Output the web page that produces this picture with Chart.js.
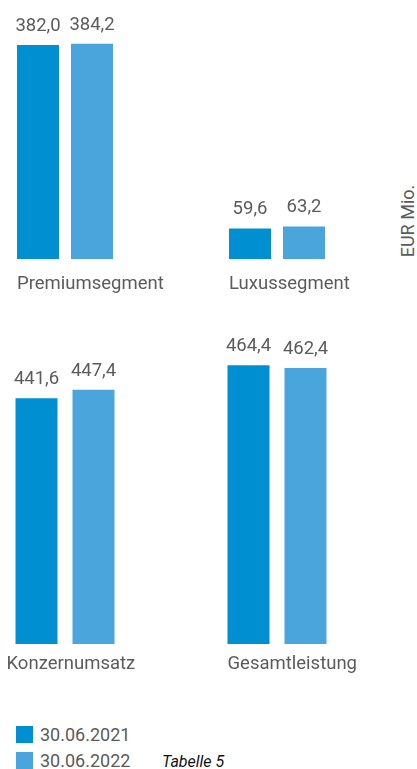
<!DOCTYPE html>
<html lang="de">
<head>
<meta charset="utf-8">
<title>Tabelle 5</title>
<script src="https://cdn.jsdelivr.net/npm/chart.js@4.4.1/dist/chart.umd.min.js"></script>
<style>
  html, body { margin: 0; padding: 0; background: #fff; }
  #page { position: relative; width: 417px; height: 769px; overflow: hidden; font-family: Roboto, sans-serif; color: #5b5b5b; }
  .chart-box { position: absolute; left: -41px; width: 424px; }
  #top-box { top: 0; height: 300px; }
  #bottom-box { top: 320px; height: 365px; }
  #unit { position: absolute; left: 407px; top: 221px; transform: translate(-50%, -50%) rotate(-90deg); font-size: 18px; white-space: nowrap; }
  .legend-item { position: absolute; left: 16px; height: 17px; line-height: 17px; font-size: 18px; display: flex; align-items: center; white-space: nowrap; }
  .legend-swatch { width: 17px; height: 17px; margin-right: 7px; flex: none; }
  #caption { position: absolute; left: 162px; top: 752px; line-height: 20px; font-size: 16px; font-style: italic; color: #111; }
</style>
</head>
<body>
<div id="page">
  <div class="chart-box" id="top-box"><canvas id="chart-top"></canvas></div>
  <div class="chart-box" id="bottom-box"><canvas id="chart-bottom"></canvas></div>
  <div id="unit">EUR Mio.</div>
  <div id="legend"></div>
  <div id="caption">Tabelle 5</div>
</div>
<script>
const seriesLabels = ['30.06.2021', '30.06.2022'];
const seriesColors = ['#008fd0', '#4aa5dd'];

const topCategories = ['Premiumsegment', 'Luxussegment'];
const top2021 = [382.0, 59.6];
const top2022 = [384.2, 63.2];

const bottomCategories = ['Konzernumsatz', 'Gesamtleistung'];
const bottom2021 = [441.6, 464.4];
const bottom2022 = [447.4, 462.4];

const textColor = '#5b5b5b';

const formatValue = (v) => v.toFixed(1).replace('.', ',');

// value over each bar, category name under the first bar of each group
const barLabels = {
  id: 'barLabels',
  afterDatasetsDraw(chart, args, opts) {
    const ctx = chart.ctx;
    ctx.save();
    ctx.font = '18.5px Roboto, sans-serif';
    ctx.fillStyle = textColor;
    ctx.textBaseline = 'alphabetic';
    ctx.textAlign = 'center';
    chart.data.datasets.forEach((ds, di) => {
      const meta = chart.getDatasetMeta(di);
      meta.data.forEach((bar, i) => {
        ctx.fillText(formatValue(ds.data[i]), bar.x, bar.y - 14);
      });
    });
    const first = chart.getDatasetMeta(0);
    ctx.textAlign = 'left';
    chart.data.labels.forEach((label, i) => {
      const bar = first.data[i];
      const shift = opts.shift ? opts.shift[i] : 0;
      ctx.fillText(label, bar.x - bar.width / 2 + shift, chart.chartArea.bottom + opts.offset);
    });
    ctx.restore();
  }
};

const makeChart = (id, labels, a, b, yMin, yMax, catPct, barPct, padTop, labelOpts) => {
  return new Chart(document.getElementById(id), {
    type: 'bar',
    data: {
      labels,
      datasets: [
        { label: seriesLabels[0], data: a, backgroundColor: seriesColors[0] },
        { label: seriesLabels[1], data: b, backgroundColor: seriesColors[1] }
      ]
    },
    options: {
      responsive: true,
      maintainAspectRatio: false,
      animation: false,
      events: [],
      layout: { padding: { top: padTop, bottom: 41, left: 0, right: 0 } },
      datasets: { bar: { categoryPercentage: catPct, barPercentage: barPct, borderWidth: 0 } },
      scales: {
        x: { display: false },
        y: { display: false, min: yMin, max: yMax }
      },
      plugins: {
        legend: { display: false },
        tooltip: { enabled: false },
        barLabels: labelOpts
      }
    },
    plugins: [barLabels]
  });
};

makeChart('chart-top', topCategories, top2021, top2022, 6, 426, 108 / 212, 42 / 54, 20, { offset: 30 });
makeChart('chart-bottom', bottomCategories, bottom2021, bottom2022, 272, 468, 114 / 212, 42 / 57, 40, { offset: 25, shift: [-9, 0] });

// legend
const legend = document.getElementById('legend');
seriesLabels.forEach((label, i) => {
  const item = document.createElement('div');
  item.className = 'legend-item';
  item.style.top = (726 + i * 26) + 'px';
  item.innerHTML = `<span class="legend-swatch" style="background:${seriesColors[i]}"></span><span>${label}</span>`;
  legend.appendChild(item);
});
</script>
</body>
</html>
